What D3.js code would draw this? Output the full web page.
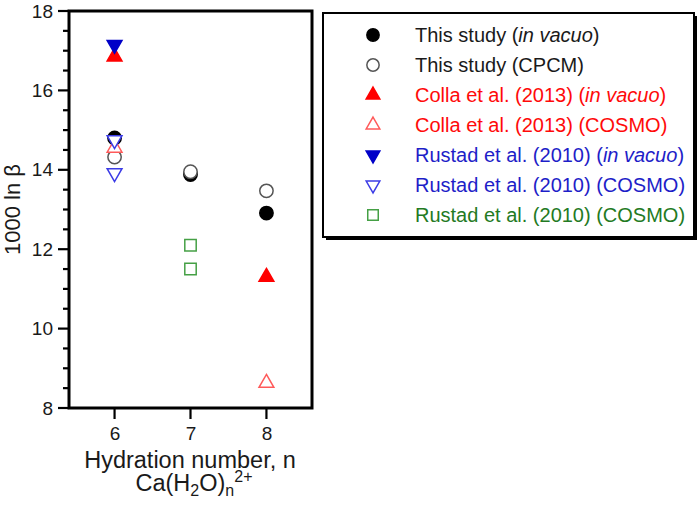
<!DOCTYPE html>
<html>
<head>
<meta charset="utf-8">
<script src="https://cdn.jsdelivr.net/npm/d3@7"></script>
<style>
  body { margin: 0; background: #fff; }
  text { font-family: "Liberation Sans", Arial, sans-serif; }
</style>
</head>
<body>
<div id="chart"></div>
<script>
// data
var hydration = [6, 7, 8];
var thisVacuoN = [6, 7, 8];
var thisVacuo = [14.8, 13.88, 12.91];
var thisCpcmN = [6, 7, 8];
var thisCpcm = [14.32, 13.95, 13.47];
var collaVacuoN = [6, 8];
var collaVacuo = [16.85, 11.3];
var collaCosmoN = [6, 8];
var collaCosmo = [14.55, 8.63];
var rustadVacuoN = [6];
var rustadVacuo = [17.15];
var rustadCosmoN = [6, 6];
var rustadCosmo = [14.75, 13.92];
var rustadGreenN = [7, 7];
var rustadGreen = [12.1, 11.5];
var yTicks = [8, 10, 12, 14, 16, 18];
var yMinor = [8.5, 9, 9.5, 10.5, 11, 11.5, 12.5, 13, 13.5, 14.5, 15, 15.5, 16.5, 17, 17.5];

var svgWidth = 700;
var svgHeight = 508;

var svg = d3.select("#chart")
  .append("svg")
  .attr("width", svgWidth)
  .attr("height", svgHeight);

var xScale = d3.scaleLinear().domain([5.4, 8.6]).range([69, 312]);
var yScale = d3.scaleLinear().domain([8, 18]).range([408, 11]);
var x0 = xScale.range()[0];
var y0 = yScale.range()[0];

// series: name, colours, marker
var series = [
  { n: thisVacuoN, v: thisVacuo, sym: "circle", fill: "#000", stroke: "#000", text: "#1a1a1a", label: ["This study (", "in vacuo", ")"] },
  { n: thisCpcmN, v: thisCpcm, sym: "circle", fill: "#fff", stroke: "#555", text: "#1a1a1a", label: ["This study (CPCM)"] },
  { n: collaVacuoN, v: collaVacuo, sym: "up", fill: "#ff0000", stroke: "#ff0000", text: "#ff0a0a", label: ["Colla et al. (2013) (", "in vacuo", ")"] },
  { n: collaCosmoN, v: collaCosmo, sym: "up", fill: "#fff", stroke: "#ff5a5a", text: "#ff0a0a", label: ["Colla et al. (2013) (COSMO)"] },
  { n: rustadVacuoN, v: rustadVacuo, sym: "down", fill: "#0000c8", stroke: "#0000c8", text: "#1e1ec8", label: ["Rustad et al. (2010) (", "in vacuo", ")"] },
  { n: rustadCosmoN, v: rustadCosmo, sym: "down", fill: "#fff", stroke: "#3c3ce6", text: "#1e1ec8", label: ["Rustad et al. (2010) (COSMO)"] },
  { n: rustadGreenN, v: rustadGreen, sym: "square", fill: "#fff", stroke: "#45a045", text: "#237a23", label: ["Rustad et al. (2010) (COSMO)"] }
];

function markerPath(sym, scale) {
  var s = scale || 1;
  if (sym === "circle") return d3.symbol().type(d3.symbolCircle).size(140 * s)();
  if (sym === "square") return d3.symbol().type(d3.symbolSquare).size(130 * s)();
  return d3.symbol().type(d3.symbolTriangle).size(95 * s)();
}

// axes (labels from d3 axes, tick marks drawn as plain lines)
var leftAxis = d3.axisLeft(yScale).tickValues(yTicks).tickSize(0).tickPadding(16)
  .tickFormat(d3.format("d"));
var bottomAxis = d3.axisBottom(xScale).tickValues(hydration).tickSize(0).tickPadding(19)
  .tickFormat(d3.format("d"));

svg.append("g")
  .attr("transform", `translate(${x0}, 0)`)
  .call(leftAxis);
svg.append("g")
  .attr("transform", `translate(0, ${y0})`)
  .call(bottomAxis);

svg.selectAll(".domain").remove();
svg.selectAll(".tick text")
  .style("font-size", "19px")
  .attr("fill", "#1a1a1a")
  .style("font-family", "'Liberation Sans', Arial, sans-serif");

var ticks = svg.append("g").attr("stroke", "#000").attr("stroke-width", 2.2);
ticks.selectAll("line.ymajor")
  .data(yTicks).enter().append("line")
  .attr("class", "ymajor")
  .attr("x1", x0 - 11).attr("x2", x0)
  .attr("y1", d => yScale(d)).attr("y2", d => yScale(d));
ticks.selectAll("line.yminor")
  .data(yMinor).enter().append("line")
  .attr("class", "yminor")
  .attr("x1", x0 - 6).attr("x2", x0)
  .attr("y1", d => yScale(d)).attr("y2", d => yScale(d));
ticks.selectAll("line.xmajor")
  .data(hydration).enter().append("line")
  .attr("class", "xmajor")
  .attr("x1", d => xScale(d)).attr("x2", d => xScale(d))
  .attr("y1", y0).attr("y2", y0 + 11);

// plot frame
svg.append("rect")
  .attr("x", x0)
  .attr("y", yScale.range()[1])
  .attr("width", xScale.range()[1] - x0)
  .attr("height", y0 - yScale.range()[1])
  .attr("fill", "none")
  .attr("stroke", "#000")
  .attr("stroke-width", 3);

// points
series.forEach(function(s) {
  svg.append("g").selectAll("path")
    .data(s.v.map((v, i) => ({ n: s.n[i], v: v })))
    .enter()
    .append("path")
    .attr("d", markerPath(s.sym))
    .attr("transform", d => `translate(${xScale(d.n)}, ${yScale(d.v)})` + (s.sym === "down" ? " rotate(180)" : ""))
    .attr("fill", s.fill)
    .attr("stroke", s.stroke)
    .attr("stroke-width", 1.5);
});

// axis titles
svg.append("text")
  .attr("transform", `translate(20, ${(y0 + yScale.range()[1]) / 2}) rotate(-90)`)
  .attr("text-anchor", "middle")
  .attr("font-size", "22px")
  .attr("fill", "#1a1a1a")
  .text("1000 ln β");

svg.append("text")
  .attr("x", 190)
  .attr("y", 468)
  .attr("text-anchor", "middle")
  .attr("font-size", "23.5px")
  .attr("fill", "#1a1a1a")
  .text("Hydration number, n");

var ca = svg.append("text")
  .attr("x", 194)
  .attr("y", 491)
  .attr("text-anchor", "middle")
  .attr("font-size", "23.5px")
  .attr("fill", "#1a1a1a");
ca.append("tspan").text("Ca(H");
ca.append("tspan").attr("font-size", "16px").attr("dy", 5).text("2");
ca.append("tspan").attr("dy", -5).text("O)");
ca.append("tspan").attr("font-size", "16px").attr("dy", 5).text("n");
ca.append("tspan").attr("font-size", "16px").attr("dy", -14).text("2+");

// legend
var legend = svg.append("g");
legend.append("rect")
  .attr("x", 326).attr("y", 16)
  .attr("width", 371).attr("height", 224)
  .attr("fill", "#000");
legend.append("rect")
  .attr("x", 323).attr("y", 13)
  .attr("width", 371).attr("height", 224)
  .attr("fill", "#fff")
  .attr("stroke", "#000")
  .attr("stroke-width", 2);

series.forEach(function(s, i) {
  var y = 35 + i * 30;
  legend.append("path")
    .attr("d", markerPath(s.sym, 0.85))
    .attr("transform", `translate(373, ${y})` + (s.sym === "down" ? " rotate(180)" : ""))
    .attr("fill", s.fill)
    .attr("stroke", s.stroke)
    .attr("stroke-width", 1.5);
  var t = legend.append("text")
    .attr("x", 415)
    .attr("y", y + 7)
    .attr("font-size", "20px")
    .attr("fill", s.text);
  s.label.forEach(function(part, j) {
    t.append("tspan")
      .style("font-style", j === 1 ? "italic" : "normal")
      .text(part);
  });
});
</script>
</body>
</html>
